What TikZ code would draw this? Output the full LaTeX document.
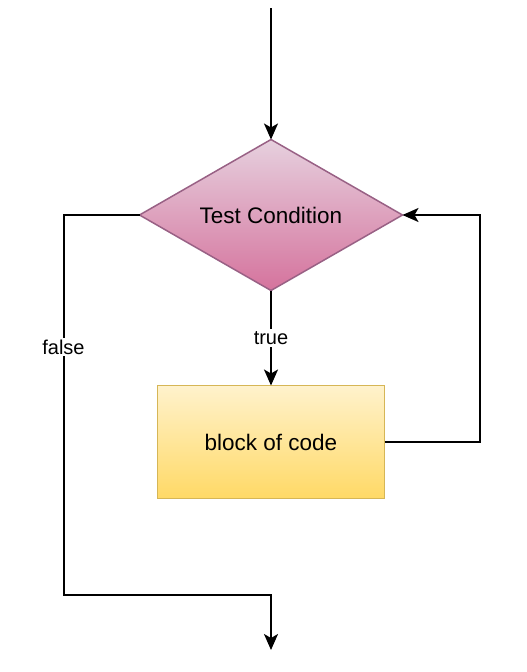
\documentclass[tikz,border=0pt]{standalone}
\usepackage{fontspec}
\setmainfont{Liberation Sans}
\usetikzlibrary{positioning, arrows.meta, shapes.geometric, calc}
\tikzstyle{flowarrow} =[-{Stealth[length=16pt, width=14pt, inset=4pt]}, line width=2pt, black]
\tikzstyle{flowlabel} =[fill=white, inner sep=2pt, font=\fontsize{20}{24}\selectfont]
\definecolor{condTop}{HTML}{E6D0DE}
\definecolor{condBottom}{HTML}{D5739D}
\definecolor{condLine}{HTML}{996185}
\definecolor{codeTop}{HTML}{FFF2CC}
\definecolor{codeBottom}{HTML}{FFD966}
\definecolor{codeLine}{HTML}{D6B656}

\begin{document}
\begin{tikzpicture}[x=1pt, y=-1pt]
\useasboundingbox (0,0) rectangle (527,672);

\node (test) [diamond, aspect=1.74, align = center, draw=condLine, line width=1.5pt, top color=condTop, bottom color=condBottom, minimum width=263pt, minimum height=151pt, inner sep=0pt, outer sep=0pt, font=\fontsize{22.5}{27}\selectfont] at (271,215) {Test Condition};

\node (block) [align = center, draw=codeLine, line width=1.5pt, top color=codeTop, bottom color=codeBottom, minimum width=227pt, minimum height=113pt, outer sep=0pt, font=\fontsize{22.5}{27}\selectfont, below=95pt of test] {block of code};

\coordinate (start) at (271,8);
\coordinate (exit) at (271,650);

\draw[flowarrow]
	(start) -- (test);

\draw[flowarrow]
	(test) -- node [flowlabel] {true} (block);

\draw[flowarrow]
	(block.east) -- ++(95pt,0) |- (test.east);

%false branch
\draw[flowarrow]
	(test.west) -- ++(-76pt,0) -- node [flowlabel, pos=0.347] {false} ++(0,380) -| (exit);

\end{tikzpicture}
\end{document}
